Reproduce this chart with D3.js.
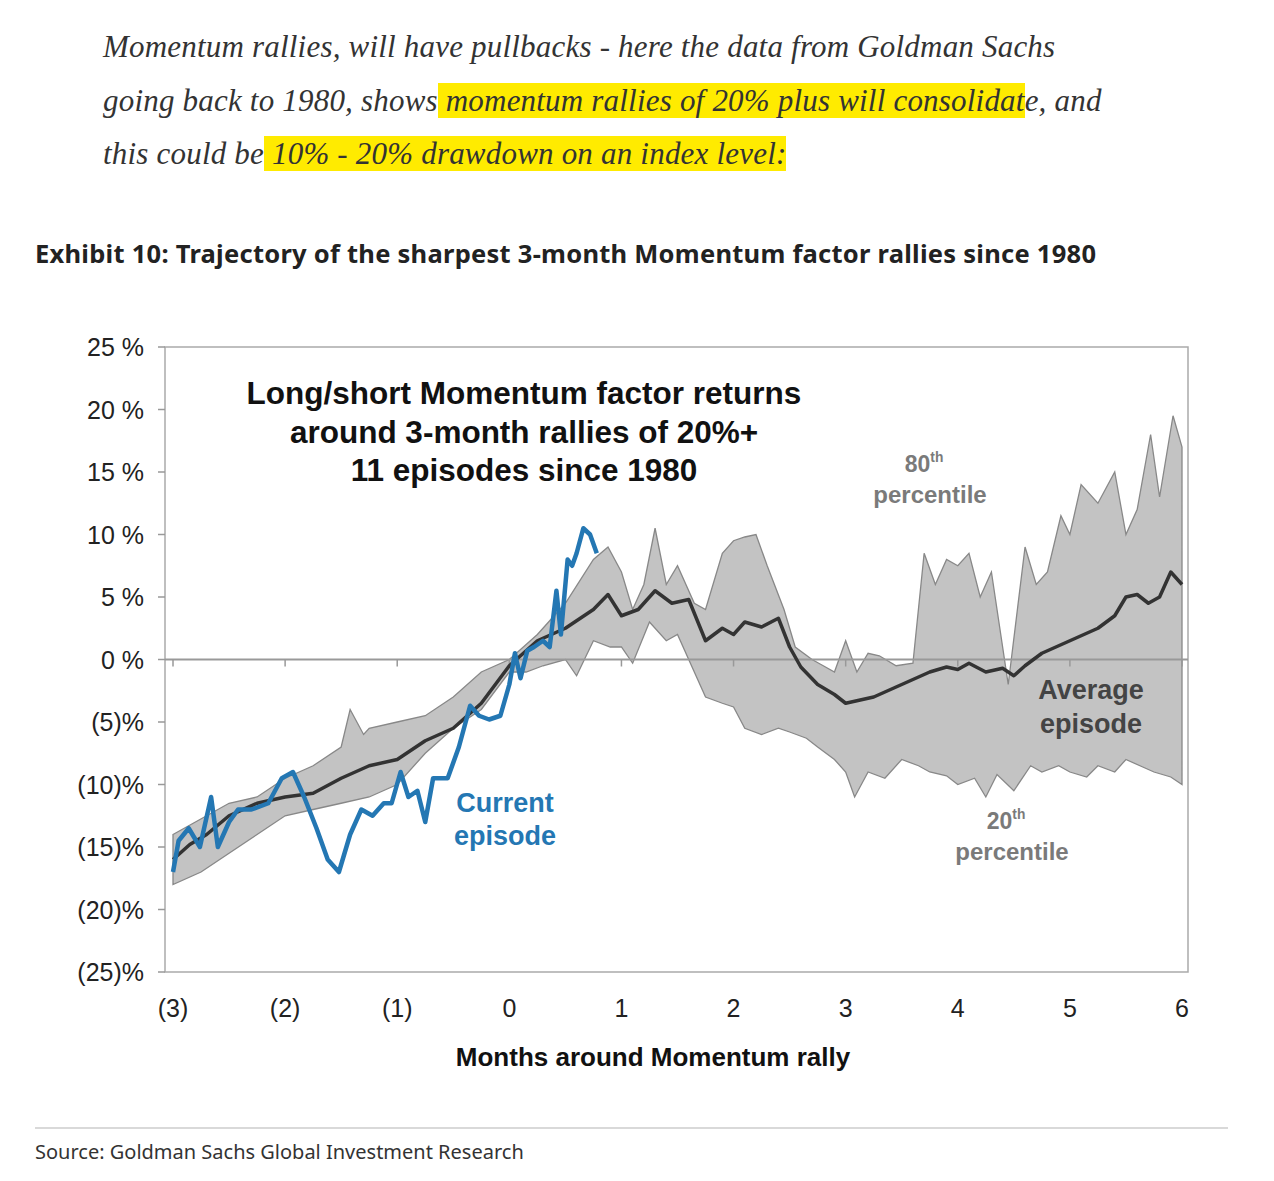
<!DOCTYPE html>
<html><head><meta charset="utf-8">
<script src="https://cdn.jsdelivr.net/npm/d3@7"></script>
<style>
body{margin:0;background:#fff;width:1274px;height:1181px;overflow:hidden;position:relative}
#para{position:absolute;left:103px;top:20px;white-space:nowrap;font-family:"Liberation Serif","DejaVu Serif",serif;font-style:italic;font-size:31px;line-height:53.5px;color:#333;letter-spacing:0.2px}
.hl{background:#ffeb00}
svg{position:absolute;left:0;top:0}
</style></head><body>
<div id="para">Momentum rallies, will have pullbacks - here the data from Goldman Sachs<br>going back to 1980, shows<span class="hl"> momentum rallies of 20% plus will consolidat</span>e, and<br>this could be<span class="hl"> 10% - 20% drawdown on an index level:</span></div>
<svg id="c" width="1274" height="1181"></svg>
<script>
const yTicks=[25,20,15,10,5,0,-5,-10,-15,-20,-25];
const yTickLabels=["25 %","20 %","15 %","10 %","5 %","0 %","(5)%","(10)%","(15)%","(20)%","(25)%"];
const xTicks=[-3,-2,-1,0,1,2,3,4,5,6];
const xTickLabels=["(3)","(2)","(1)","0","1","2","3","4","5","6"];
const avgX=[-3,-2.85,-2.7,-2.5,-2.25,-2,-1.75,-1.5,-1.25,-1,-0.75,-0.5,-0.25,0,0.25,0.5,0.75,0.88,1,1.15,1.3,1.45,1.6,1.75,1.9,2,2.1,2.25,2.4,2.5,2.6,2.75,2.9,3,3.1,3.25,3.5,3.75,3.9,4,4.1,4.25,4.4,4.5,4.6,4.75,5,5.25,5.4,5.5,5.6,5.7,5.8,5.9,6];
const avgY=[-16,-14.8,-14,-12.5,-11.5,-11,-10.7,-9.5,-8.5,-8,-6.5,-5.5,-3.5,-0.5,1.5,2.5,4,5.2,3.5,4,5.5,4.5,4.8,1.5,2.5,2,3,2.6,3.3,1,-0.6,-2,-2.8,-3.5,-3.3,-3,-2,-1,-0.6,-0.8,-0.3,-1,-0.7,-1.3,-0.5,0.5,1.5,2.5,3.5,5,5.2,4.5,5,7,6];
const p80X=[-3,-2.8,-2.5,-2.25,-2,-1.75,-1.5,-1.42,-1.3,-1.25,-1,-0.75,-0.5,-0.25,0,0.25,0.5,0.75,0.88,1,1.1,1.2,1.3,1.4,1.5,1.65,1.75,1.9,2,2.1,2.2,2.3,2.45,2.55,2.7,2.8,2.9,3,3.1,3.2,3.3,3.45,3.6,3.7,3.8,3.9,4,4.1,4.2,4.3,4.45,4.6,4.7,4.8,4.92,5,5.1,5.25,5.4,5.5,5.6,5.72,5.8,5.92,6];
const p80Y=[-14,-13,-11.5,-11,-9.5,-8.5,-7,-4,-6,-5.5,-5,-4.5,-3,-1,0,2,4.5,8,9,7,4,6,10.5,6,7.5,4.5,4,8.5,9.5,9.8,10,7.5,4,1,0,-0.5,-1,1.5,-1,0.5,0.3,-0.5,-0.3,8.5,6,8,7.5,8.5,5,7,-2,9,6,7,11.5,10,14,12.5,15,10,12,18,13,19.5,17];
const p20X=[-3,-2.75,-2.5,-2.25,-2,-1.75,-1.5,-1.25,-1,-0.75,-0.5,-0.25,0,0.15,0.3,0.5,0.6,0.75,0.9,1,1.1,1.25,1.4,1.5,1.6,1.75,1.9,2,2.1,2.25,2.4,2.5,2.65,2.75,2.9,3,3.08,3.2,3.35,3.5,3.65,3.75,3.9,4,4.15,4.25,4.35,4.5,4.65,4.75,4.9,5,5.15,5.25,5.4,5.5,5.65,5.75,5.9,6];
const p20Y=[-18,-17,-15.5,-14,-12.5,-12,-11.5,-11,-10,-7.5,-5.5,-4,-1,-1,-0.5,0,-1.3,1.5,1,1,-0.3,3,1.5,2,0,-3,-3.5,-3.8,-5.5,-6,-5.5,-5.8,-6.3,-7,-8,-9,-11,-9,-9.5,-8,-8.5,-9,-9.3,-10,-9.5,-11,-9.2,-10.5,-8.5,-9,-8.5,-9,-9.4,-8.5,-9,-8,-8.6,-9,-9.4,-10];
const curX=[-3,-2.95,-2.86,-2.76,-2.66,-2.6,-2.5,-2.42,-2.3,-2.15,-2.03,-1.93,-1.83,-1.72,-1.62,-1.52,-1.42,-1.32,-1.22,-1.12,-1.05,-0.97,-0.9,-0.82,-0.75,-0.68,-0.55,-0.45,-0.35,-0.27,-0.18,-0.08,0,0.05,0.1,0.16,0.22,0.3,0.36,0.42,0.46,0.52,0.56,0.6,0.66,0.72,0.78];
const curY=[-17,-14.5,-13.5,-15,-11,-15,-13,-12,-12,-11.5,-9.5,-9,-11,-13.5,-16,-17,-14,-12,-12.5,-11.5,-11.5,-9,-11,-10.5,-13,-9.5,-9.5,-7,-3.7,-4.5,-4.8,-4.5,-2,0.5,-1.5,0.7,1,1.5,1,5.5,2,8,7.5,8.5,10.5,10,8.5];

const svg=d3.select("#c");
const L=165,R=1188,T=347,B=972;
const x=d3.scaleLinear().domain([-3,6]).range([173,1182]);
const y=d3.scaleLinear().domain([-25,25]).range([B,T]);
const sans='"Liberation Sans",Arial,sans-serif';

svg.append("text").attr("x",35).attr("y",263).attr("font-family",'"Noto Sans","Open Sans",sans-serif').attr("font-weight","bold").attr("font-size",25.5).attr("fill","#222").attr("textLength",1061).text("Exhibit 10: Trajectory of the sharpest 3-month Momentum factor rallies since 1980");

svg.append("rect").attr("x",L).attr("y",T).attr("width",R-L).attr("height",B-T).attr("fill","none").attr("stroke","#aaa").attr("stroke-width",1.5);

const band=p80X.map((v,i)=>[v,p80Y[i]]).concat(p20X.map((v,i)=>[v,p20Y[i]]).reverse());
svg.append("path").attr("d",d3.line().x(d=>x(d[0])).y(d=>y(d[1]))(band)+"Z").attr("fill","#c3c3c3").attr("stroke","#888").attr("stroke-width",1.3);

svg.append("line").attr("x1",L).attr("x2",R).attr("y1",y(0)).attr("y2",y(0)).attr("stroke","#999").attr("stroke-width",2);
xTicks.forEach(t=>svg.append("line").attr("x1",x(t)).attr("x2",x(t)).attr("y1",y(0)).attr("y2",y(0)+7).attr("stroke","#999").attr("stroke-width",1.5));
yTicks.forEach((t,i)=>{
 svg.append("line").attr("x1",L-7).attr("x2",L).attr("y1",y(t)).attr("y2",y(t)).attr("stroke","#999").attr("stroke-width",1.5);
 svg.append("text").attr("x",144).attr("y",y(t)+9).attr("text-anchor","end").attr("font-family",sans).attr("font-size",25).attr("fill","#222").text(yTickLabels[i]);
});
xTicks.forEach((t,i)=>svg.append("text").attr("x",x(t)).attr("y",1017).attr("text-anchor","middle").attr("font-family",sans).attr("font-size",25).attr("fill","#222").text(xTickLabels[i]));
svg.append("text").attr("x",653).attr("y",1066).attr("text-anchor","middle").attr("font-family",sans).attr("font-weight","bold").attr("font-size",26).attr("fill","#111").text("Months around Momentum rally");

const line=d3.line().x(d=>x(d[0])).y(d=>y(d[1]));
svg.append("path").attr("d",line(avgX.map((v,i)=>[v,avgY[i]]))).attr("fill","none").attr("stroke","#333").attr("stroke-width",3.5).attr("stroke-linejoin","round");
svg.append("path").attr("d",line(curX.map((v,i)=>[v,curY[i]]))).attr("fill","none").attr("stroke","#2477b3").attr("stroke-width",4.5).attr("stroke-linejoin","round");

[["Long/short Momentum factor returns",404],["around 3-month rallies of 20%+",443],["11 episodes since 1980",481]].forEach(d=>
 svg.append("text").attr("x",524).attr("y",d[1]).attr("text-anchor","middle").attr("font-family",sans).attr("font-weight","bold").attr("font-size",31.5).attr("fill","#111").text(d[0]));
function lab(txt,xx,yy,col,sz,sup){const t=svg.append("text").attr("x",xx).attr("y",yy).attr("text-anchor","middle").attr("font-family",sans).attr("font-weight","bold").attr("font-size",sz).attr("fill",col);t.append("tspan").text(txt);if(sup)t.append("tspan").attr("font-size",sz*0.6).attr("dy",-10).text(sup);}
lab("80",924,472,"#7a7a7a",23,"th");lab("percentile",930,503,"#7a7a7a",24);
lab("20",1006,829,"#7a7a7a",23,"th");lab("percentile",1012,860,"#7a7a7a",24);
lab("Average",1091,699,"#444",27);lab("episode",1091,733,"#444",27);
lab("Current",505,812,"#2477b3",27);lab("episode",505,845,"#2477b3",27);

svg.append("line").attr("x1",35).attr("x2",1228).attr("y1",1128).attr("y2",1128).attr("stroke","#ccc").attr("stroke-width",1.5);
svg.append("text").attr("x",35).attr("y",1159).attr("font-family",'"Noto Sans","Open Sans",sans-serif').attr("font-size",20).attr("fill","#333").text("Source: Goldman Sachs Global Investment Research");
</script></body></html>
